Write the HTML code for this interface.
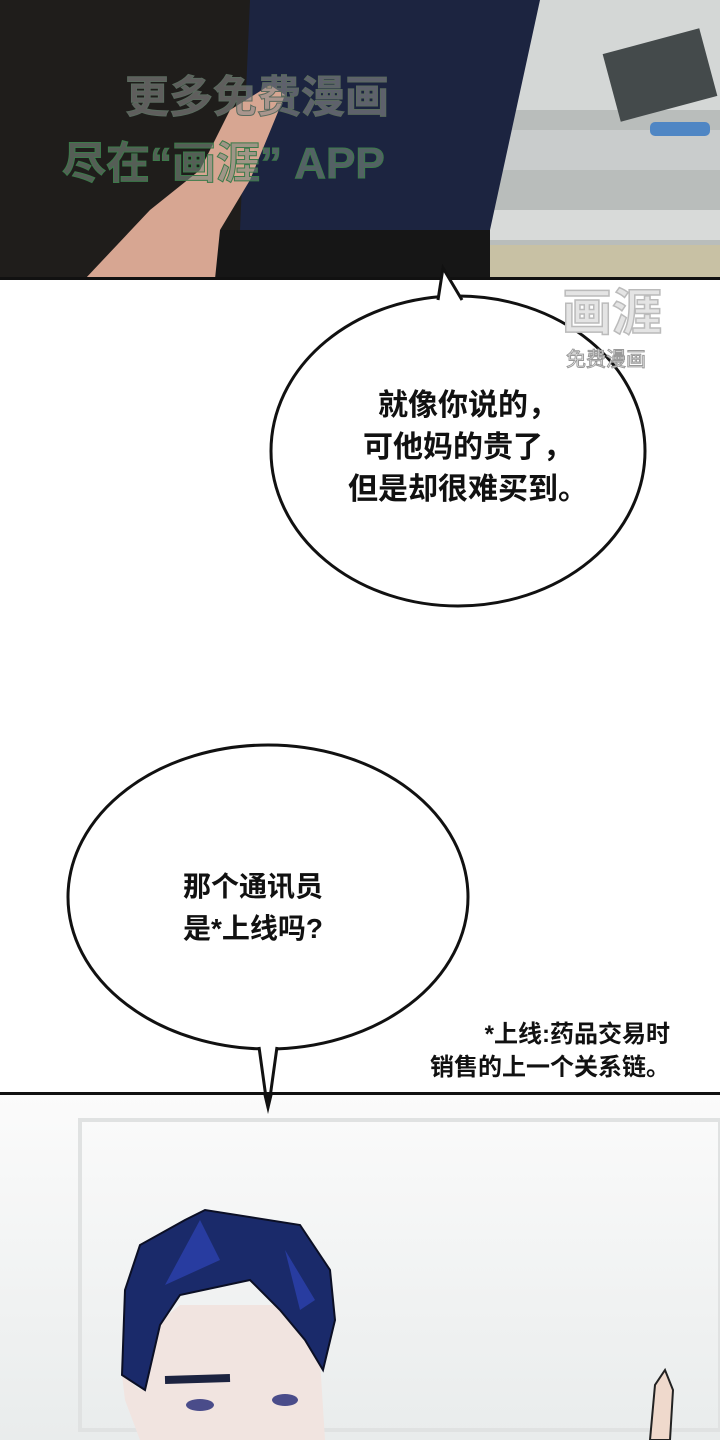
<!DOCTYPE html>
<html><head><meta charset="utf-8"><style>
html,body{margin:0;padding:0;background:#fff;}
body{width:720px;height:1440px;overflow:hidden;position:relative;font-family:"Liberation Sans","Noto Sans CJK SC",sans-serif;}
.t{position:absolute;font-weight:bold;color:#111;white-space:nowrap;}
</style></head><body>
<svg width="720" height="1440" style="position:absolute;left:0;top:0">
<defs>
<linearGradient id="bg2" x1="0" y1="0" x2="0" y2="1"><stop offset="0" stop-color="#fbfbfb"/><stop offset="1" stop-color="#e9ecec"/></linearGradient>
</defs>
<rect x="0" y="0" width="720" height="279" fill="#1f1d1b"/>
<rect x="490" y="0" width="230" height="279" fill="#b9bdbb"/>
<rect x="500" y="0" width="220" height="110" fill="#d4d7d6"/>
<rect x="610" y="40" width="100" height="70" fill="#444a4b" transform="rotate(-15 660 75)"/>
<rect x="490" y="130" width="230" height="40" fill="#c9cccc"/>
<rect x="650" y="122" width="60" height="14" rx="5" fill="#4f86c4"/>
<rect x="490" y="210" width="230" height="30" fill="#d8dad9"/>
<rect x="490" y="245" width="230" height="34" fill="#c8c1a4"/>
<path d="M250 0 L540 0 L490 230 L240 230 Z" fill="#1c2440"/>
<rect x="215" y="230" width="275" height="49" fill="#161616"/>
<path d="M85 279 L150 210 L200 170 L230 110 L270 85 L285 95 L250 180 L220 230 L215 279 Z" fill="#d7a692"/>
<text x="125" y="112" font-size="44" font-weight="bold" fill="#8a8a8a" fill-opacity="0.6" stroke="#5a6a5e" stroke-width="1" font-family="Noto Sans CJK SC">更多免费漫画</text>
<text x="62" y="178" font-size="44" font-weight="bold" fill="#7a8a7e" fill-opacity="0.6" stroke="#3c7a4a" stroke-width="1" font-family="Liberation Sans, Noto Sans CJK SC">尽在“画涯” APP</text>
<rect x="0" y="277" width="720" height="3" fill="#111"/>
<!-- bubble 1 -->
<ellipse cx="458" cy="451" rx="187" ry="155" fill="#fff" stroke="#111" stroke-width="3"/>
<path d="M438 303 L443 268 L462 302 Z" fill="#fff"/>
<path d="M438 300 L443 268 L462 300" stroke="#111" stroke-width="3" fill="none"/>
<!-- watermark right -->
<text x="562" y="330" font-size="50" font-weight="bold" fill="#e4e4e4" stroke="#bbb" stroke-width="1.5" font-family="Noto Sans CJK SC">画涯</text>
<text x="566" y="366" font-size="20" fill="#fff" stroke="#999" stroke-width="1" font-family="Noto Sans CJK SC">免费漫画</text>
<!-- bubble 2 -->
<ellipse cx="268" cy="897" rx="200" ry="152" fill="#fff" stroke="#111" stroke-width="3"/>
<path d="M260 1045 L268 1112 L276 1045 Z" fill="#fff"/>
<path d="M259 1047 L268 1112 L277 1047" stroke="#111" stroke-width="3" fill="none"/>
<!-- bottom panel -->
<rect x="0" y="1094" width="720" height="346" fill="url(#bg2)"/>
<rect x="80" y="1120" width="640" height="310" fill="none" stroke="#e0e2e2" stroke-width="4"/>
<rect x="0" y="1092" width="720" height="3" fill="#111"/>
<path d="M263 1093 L268 1114 L273 1093 Z" fill="#111"/>
<path d="M140 1440 L125 1400 L122 1375 L140 1390 L150 1330 L180 1305 L300 1305 L320 1360 L325 1440 Z" fill="#f1e4e0"/>
<path d="M122 1375 L125 1290 L140 1245 L185 1220 L205 1210 L300 1225 L330 1270 L335 1320 L323 1370 L305 1340 L280 1310 L250 1280 L180 1295 L160 1325 L145 1390 Z" fill="#1a2a6a" stroke="#0b0f25" stroke-width="2"/>
<path d="M165 1285 L200 1220 L220 1260 Z" fill="#2f44b8" opacity="0.7"/>
<path d="M285 1250 L315 1300 L300 1310 Z" fill="#2f44b8" opacity="0.7"/>
<path d="M165 1380 L230 1378" stroke="#1c2340" stroke-width="8"/>
<ellipse cx="200" cy="1405" rx="14" ry="6" fill="#4a4c8a"/>
<ellipse cx="285" cy="1400" rx="13" ry="6" fill="#4a4c8a"/>
<path d="M650 1440 L655 1385 L665 1370 L673 1390 L670 1440 Z" fill="#efd9cc" stroke="#222" stroke-width="2"/>
</svg>
<div class="t" style="left:318px;top:385px;width:300px;text-align:center;font-size:30px;line-height:42px">就像你说的，<br>可他妈的贵了，<br>但是却很难买到。</div>
<div class="t" style="left:183px;top:866px;font-size:28px;line-height:42px">那个通讯员<br>是*上线吗?</div>
<div class="t" style="left:370px;top:1018px;width:300px;text-align:right;font-size:24px;line-height:33px;font-weight:bold">*上线:药品交易时<br>销售的上一个关系链。</div>
</body></html>
